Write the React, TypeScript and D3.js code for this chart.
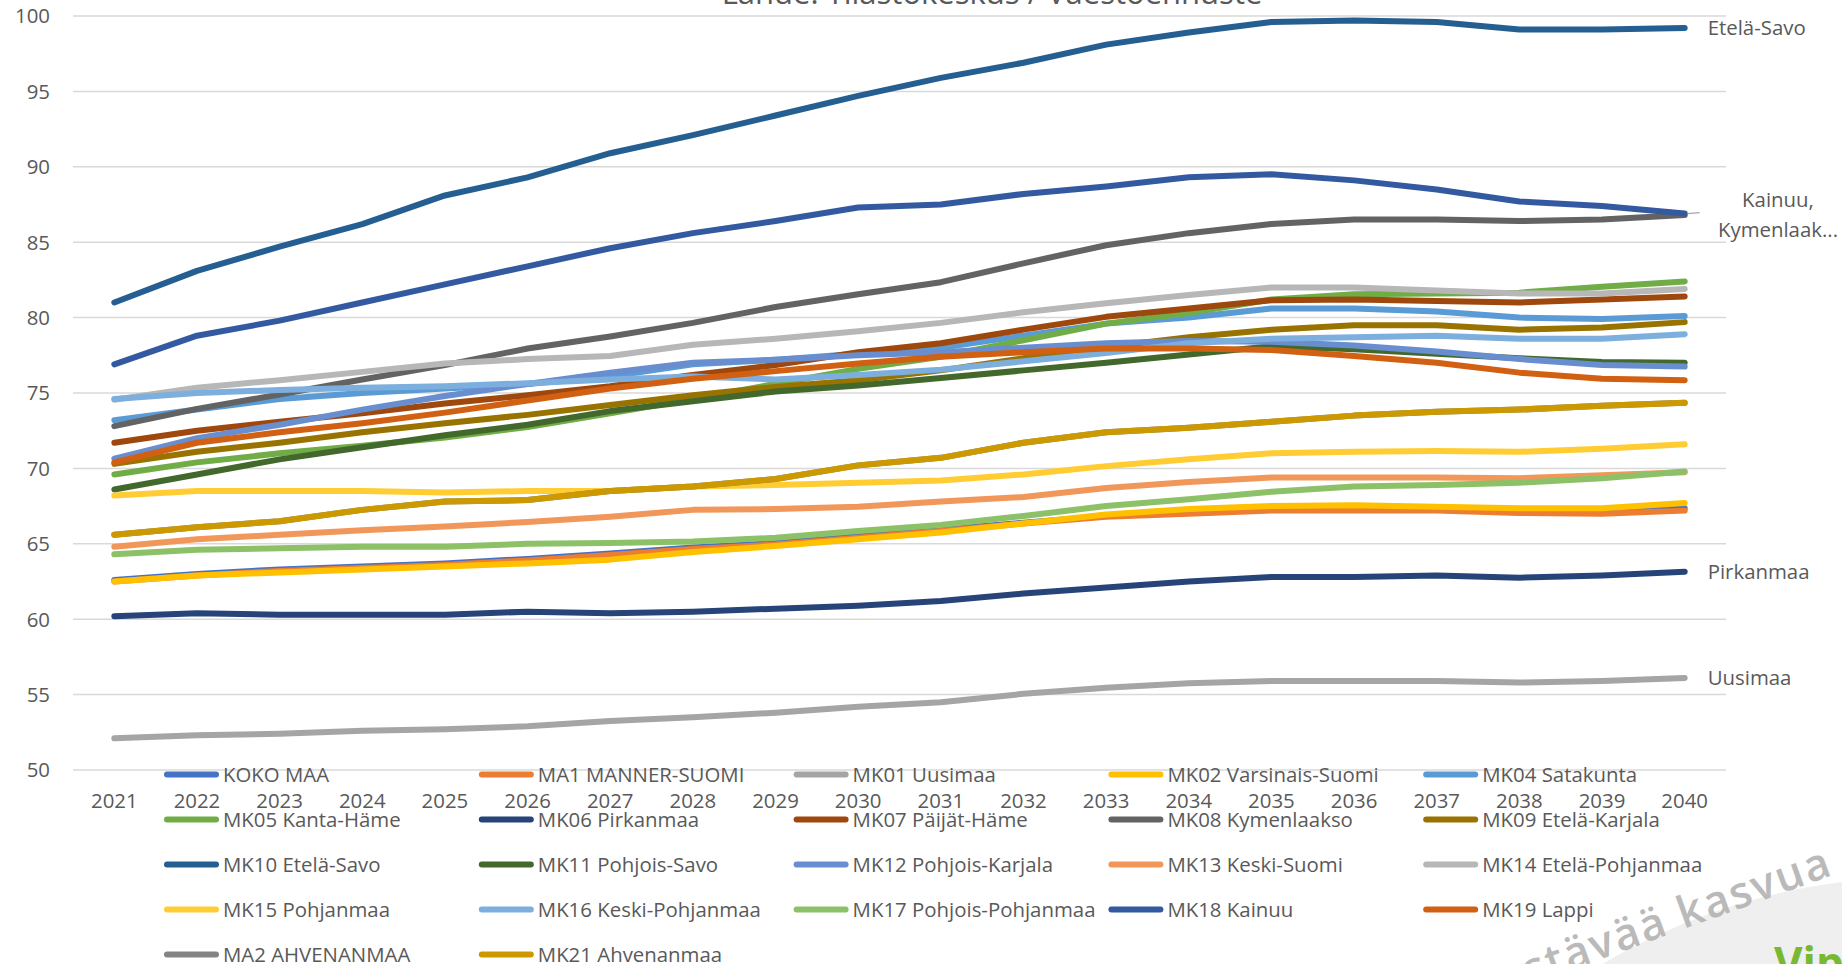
import React, { useEffect } from 'react';
import * as d3 from 'd3';

const years = ['2021','2022','2023','2024','2025','2026','2027','2028','2029','2030','2031','2032','2033','2034','2035','2036','2037','2038','2039','2040'];
const yTicks = [50, 55, 60, 65, 70, 75, 80, 85, 90, 95, 100];

const seriesNames = [
  'KOKO MAA', 'MA1 MANNER-SUOMI', 'MK01 Uusimaa', 'MK02 Varsinais-Suomi', 'MK04 Satakunta',
  'MK05 Kanta-Häme', 'MK06 Pirkanmaa', 'MK07 Päijät-Häme', 'MK08 Kymenlaakso', 'MK09 Etelä-Karjala',
  'MK10 Etelä-Savo', 'MK11 Pohjois-Savo', 'MK12 Pohjois-Karjala', 'MK13 Keski-Suomi', 'MK14 Etelä-Pohjanmaa',
  'MK15 Pohjanmaa', 'MK16 Keski-Pohjanmaa', 'MK17 Pohjois-Pohjanmaa', 'MK18 Kainuu', 'MK19 Lappi',
  'MA2 AHVENANMAA', 'MK21 Ahvenanmaa'
];
const seriesColors = [
  '#4472C4', '#ED7D31', '#A5A5A5', '#FFC000', '#5B9BD5',
  '#70AD47', '#264478', '#9E480E', '#636363', '#997300',
  '#255E91', '#43682B', '#698ED0', '#F1975A', '#B7B7B7',
  '#FFCD33', '#7CAFDD', '#8CC168', '#335AA1', '#D26012',
  '#848484', '#CC9A00'
];

const KOKO_MAA = [62.6, 63.0, 63.3, 63.5, 63.7, 64.0, 64.35, 64.75, 65.05, 65.5, 65.95, 66.4, 66.85, 67.05, 67.25, 67.25, 67.25, 67.1, 67.1, 67.35];
const MA1_MANNER_SUOMI = [62.5, 62.9, 63.2, 63.4, 63.6, 63.9, 64.25, 64.65, 64.95, 65.4, 65.85, 66.35, 66.8, 67.0, 67.2, 67.2, 67.2, 67.05, 67.0, 67.2];
const MK01_Uusimaa = [52.1, 52.3, 52.4, 52.6, 52.7, 52.9, 53.25, 53.5, 53.8, 54.2, 54.5, 55.05, 55.45, 55.75, 55.9, 55.9, 55.9, 55.8, 55.9, 56.1];
const MK02_Varsinais_Suomi = [62.5, 62.9, 63.1, 63.3, 63.5, 63.7, 63.95, 64.45, 64.85, 65.3, 65.75, 66.35, 66.95, 67.3, 67.5, 67.55, 67.45, 67.35, 67.35, 67.7];
const MK04_Satakunta = [73.2, 73.9, 74.6, 75.0, 75.3, 75.6, 76.1, 76.9, 77.2, 77.6, 78.0, 78.8, 79.6, 80.0, 80.6, 80.6, 80.4, 80.0, 79.9, 80.1];
const MK05_Kanta_Hame = [69.6, 70.4, 71.0, 71.5, 72.05, 72.75, 73.65, 74.6, 75.6, 76.6, 77.4, 78.5, 79.6, 80.3, 81.2, 81.55, 81.6, 81.65, 82.05, 82.4];
const MK06_Pirkanmaa = [60.2, 60.4, 60.3, 60.3, 60.3, 60.5, 60.4, 60.5, 60.7, 60.9, 61.2, 61.7, 62.1, 62.5, 62.8, 62.8, 62.9, 62.75, 62.9, 63.15];
const MK07_Paijat_Hame = [71.7, 72.5, 73.1, 73.65, 74.3, 74.85, 75.45, 76.2, 76.85, 77.7, 78.3, 79.2, 80.05, 80.6, 81.15, 81.2, 81.1, 81.0, 81.2, 81.4];
const MK08_Kymenlaakso = [72.8, 73.95, 74.9, 75.9, 76.85, 77.95, 78.75, 79.65, 80.7, 81.55, 82.35, 83.6, 84.8, 85.6, 86.2, 86.5, 86.5, 86.4, 86.5, 86.8];
const MK09_Etela_Karjala = [70.3, 71.1, 71.7, 72.4, 73.0, 73.55, 74.2, 74.85, 75.4, 75.85, 76.5, 77.3, 78.05, 78.7, 79.2, 79.5, 79.5, 79.2, 79.35, 79.7];
const MK10_Etela_Savo = [81.0, 83.1, 84.7, 86.2, 88.1, 89.3, 90.9, 92.1, 93.4, 94.7, 95.9, 96.9, 98.1, 98.9, 99.6, 99.7, 99.6, 99.1, 99.1, 99.2];
const MK11_Pohjois_Savo = [68.6, 69.6, 70.6, 71.4, 72.2, 72.9, 73.8, 74.45, 75.1, 75.5, 76.0, 76.5, 77.0, 77.55, 78.1, 77.9, 77.6, 77.3, 77.05, 77.0];
const MK12_Pohjois_Karjala = [70.65, 72.0, 72.9, 73.9, 74.8, 75.6, 76.35, 77.0, 77.2, 77.5, 77.7, 78.0, 78.3, 78.45, 78.4, 78.15, 77.75, 77.25, 76.85, 76.75];
const MK13_Keski_Suomi = [64.8, 65.3, 65.6, 65.9, 66.15, 66.45, 66.8, 67.25, 67.3, 67.45, 67.8, 68.1, 68.7, 69.1, 69.4, 69.4, 69.4, 69.35, 69.55, 69.75];
const MK14_Etela_Pohjanmaa = [74.55, 75.35, 75.85, 76.4, 76.95, 77.25, 77.45, 78.2, 78.6, 79.1, 79.65, 80.35, 80.95, 81.5, 82.0, 82.0, 81.8, 81.6, 81.6, 81.9];
const MK15_Pohjanmaa = [68.2, 68.5, 68.5, 68.5, 68.4, 68.5, 68.5, 68.8, 68.9, 69.05, 69.2, 69.6, 70.15, 70.6, 71.0, 71.1, 71.15, 71.1, 71.3, 71.6];
const MK16_Keski_Pohjanmaa = [74.6, 75.0, 75.2, 75.35, 75.45, 75.65, 75.9, 76.1, 75.9, 76.2, 76.55, 77.1, 77.65, 78.3, 78.6, 78.7, 78.8, 78.6, 78.6, 78.9];
const MK17_Pohjois_Pohjanmaa = [64.3, 64.6, 64.7, 64.8, 64.8, 65.0, 65.05, 65.15, 65.4, 65.85, 66.25, 66.85, 67.5, 67.95, 68.45, 68.8, 68.9, 69.05, 69.35, 69.8];
const MK18_Kainuu = [76.9, 78.8, 79.8, 81.0, 82.2, 83.4, 84.6, 85.6, 86.4, 87.3, 87.5, 88.2, 88.7, 89.3, 89.5, 89.1, 88.5, 87.7, 87.4, 86.9];
const MK19_Lappi = [70.4, 71.7, 72.4, 73.0, 73.7, 74.5, 75.3, 75.95, 76.45, 76.95, 77.4, 77.7, 77.95, 77.95, 77.85, 77.45, 77.0, 76.35, 75.95, 75.85];
const MA2_AHVENANMAA = [65.6, 66.1, 66.5, 67.25, 67.8, 67.9, 68.5, 68.8, 69.3, 70.2, 70.7, 71.7, 72.4, 72.7, 73.1, 73.5, 73.75, 73.9, 74.15, 74.35];
const MK21_Ahvenanmaa = [65.6, 66.1, 66.5, 67.25, 67.8, 67.9, 68.5, 68.8, 69.3, 70.2, 70.7, 71.7, 72.4, 72.7, 73.1, 73.5, 73.75, 73.9, 74.15, 74.35];

const seriesValues = [
  KOKO_MAA, MA1_MANNER_SUOMI, MK01_Uusimaa, MK02_Varsinais_Suomi, MK04_Satakunta,
  MK05_Kanta_Hame, MK06_Pirkanmaa, MK07_Paijat_Hame, MK08_Kymenlaakso, MK09_Etela_Karjala,
  MK10_Etela_Savo, MK11_Pohjois_Savo, MK12_Pohjois_Karjala, MK13_Keski_Suomi, MK14_Etela_Pohjanmaa,
  MK15_Pohjanmaa, MK16_Keski_Pohjanmaa, MK17_Pohjois_Pohjanmaa, MK18_Kainuu, MK19_Lappi,
  MA2_AHVENANMAA, MK21_Ahvenanmaa
];

const titleText = 'Lähde: Tilastokeskus / Väestöennuste';

export default function App() {
  useEffect(() => {
    document.body.style.margin = '0';
    document.body.style.overflow = 'hidden';
  }, []);

  const W = 1842, H = 964;
  const FONT = "'Open Sans', sans-serif";
  const FS = 20.4;
  const TXT = '#595959';
  const LW = 6;

  const x = d3.scaleBand<string>().domain(years).range([73, 1726]).padding(0);
  const cx = (yr: string) => (x(yr) as number) + x.bandwidth() / 2;
  const y = d3.scaleLinear().domain([50, 100]).range([770, 16]);

  const line = d3.line<number>()
    .x((_, i) => cx(years[i]))
    .y((d) => y(d));

  const lastX = cx(years[years.length - 1]);
  const labelX = lastX + 23;
  const last = (arr: number[]) => arr[arr.length - 1];

  return (
    <svg width={W} height={H} style={{ position: 'absolute', left: 0, top: 0, display: 'block', background: '#fff' }}
      fontFamily={FONT}>
      {/* background decoration */}
      <circle cx={1920} cy={1500} r={623} fill="#efefef" />

      {/* title (cut off at the top) */}
      <text x={992} y={4} textAnchor="middle" fontSize={31} fill={TXT}>{titleText}</text>

      {/* gridlines */}
      {yTicks.map((t) => (
        <line key={t} x1={73} x2={1726} y1={y(t)} y2={y(t)} stroke="#D9D9D9" strokeWidth={1.5} />
      ))}

      {/* y tick labels */}
      {yTicks.map((t) => (
        <text key={'yl' + t} x={50} y={y(t) + 7.3} textAnchor="end" fontSize={FS} fill={TXT}>{t}</text>
      ))}

      {/* x tick labels */}
      {years.map((yr) => (
        <text key={'xl' + yr} x={cx(yr)} y={808} textAnchor="middle" fontSize={FS} fill={TXT}>{yr}</text>
      ))}

      {/* series lines */}
      {seriesValues.map((vals, i) => (
        <path key={seriesNames[i]} d={line(vals) || ''} fill="none" stroke={seriesColors[i]}
          strokeWidth={LW} strokeLinejoin="round" strokeLinecap="round" />
      ))}

      {/* data labels */}
      <text x={labelX} y={y(last(MK10_Etela_Savo)) + 7.3} fontSize={FS} fill={TXT}>Etelä-Savo</text>
      <line x1={lastX + 3} x2={lastX + 15} y1={y(last(MK18_Kainuu))} y2={y(last(MK18_Kainuu)) - 1} stroke="#A6A6A6" strokeWidth={1.2} />
      <text x={1778} y={y(last(MK18_Kainuu)) - 6.5} textAnchor="middle" fontSize={FS} fill={TXT}>Kainuu,</text>
      <text x={1778} y={y(last(MK18_Kainuu)) + 23.5} textAnchor="middle" fontSize={FS} fill={TXT}>Kymenlaak...</text>
      <text x={labelX} y={y(last(MK06_Pirkanmaa)) + 7.3} fontSize={FS} fill={TXT}>Pirkanmaa</text>
      <text x={labelX} y={y(last(MK01_Uusimaa)) + 7.3} fontSize={FS} fill={TXT}>Uusimaa</text>

      {/* legend */}
      {seriesNames.map((name, i) => {
        const col = i % 5;
        const row = Math.floor(i / 5);
        const x0 = 164 + col * 314.8;
        const yc = 774.5 + row * 45;
        return (
          <g key={'lg' + name}>
            <line x1={x0 + 3} x2={x0 + 52} y1={yc} y2={yc} stroke={seriesColors[i]} strokeWidth={LW} strokeLinecap="round" />
            <text x={x0 + 59} y={yc + 7.3} fontSize={FS} fill={TXT}>{name}</text>
          </g>
        );
      })}

      {/* watermark */}
      <g transform="translate(1835,874) rotate(-20)">
        <text x={0} y={0} textAnchor="end" fontSize={44} fontWeight={600} fill="#b3b3b3" letterSpacing={2} opacity={0.9}>Kestävää kasvua</text>
      </g>
      <text x={1774} y={979} fontSize={44} fontWeight={700} fill="#78B833">Vipuvoimaa</text>
    </svg>
  );
}
